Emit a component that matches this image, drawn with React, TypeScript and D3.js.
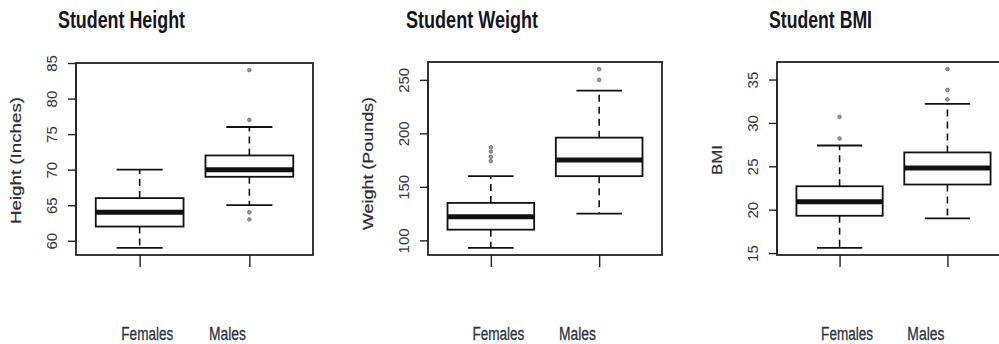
import React, { useEffect, useRef } from 'react';
import * as d3 from 'd3';

const groups = ['Females', 'Males'];

// five number summaries per group: [lower whisker, Q1, median, Q3, upper whisker]
const heightStats = [[59, 62, 64, 66, 70], [65, 69, 70, 72, 76]];
const heightOutliers = [[], [63, 64, 77, 84]];
const heightTicks = [60, 65, 70, 75, 80, 85];

const weightStats = [[93, 110, 122, 135, 160], [125, 160, 175, 196, 240]];
const weightOutliers = [[174, 178, 183, 187], [250, 260]];
const weightTicks = [100, 150, 200, 250];

const bmiStats = [[15.6, 19.3, 20.9, 22.7, 27.4], [19.0, 22.9, 24.8, 26.6, 32.2]];
const bmiOutliers = [[28.2, 30.7], [32.7, 33.8, 36.2]];
const bmiTicks = [15, 20, 25, 30, 35];

const titles = ['Student Height', 'Student Weight', 'Student BMI'];
const yLabels = ['Height (Inches)', 'Weight (Pounds)', 'BMI'];

const datasets = [
  { stats: heightStats, outliers: heightOutliers, ticks: heightTicks },
  { stats: weightStats, outliers: weightOutliers, ticks: weightTicks },
  { stats: bmiStats, outliers: bmiOutliers, ticks: bmiTicks },
];

// plot frames
const panels = [
  { left: 76, right: 313, top: 63, bottom: 255, titleX: 58, titleW: 127, labelW: 127, labelY: 160.5 },
  { left: 428, right: 662, top: 62, bottom: 255, titleX: 406, titleW: 132, labelW: 133, labelY: 163.5 },
  { left: 777, right: 1010, top: 62, bottom: 255, titleX: 769, titleW: 103, labelW: 30, labelY: 160 },
];
const groupLabelW = [52, 37];
const groupLabelPos = [1.07, 1.8];

const font = '"Liberation Sans", Arial, sans-serif';

export default function App() {
  const ref = useRef<SVGSVGElement>(null);

  useEffect(() => {
    const svg = d3.select(ref.current);
    svg.selectAll('*').remove();

    panels.forEach((p, i) => {
      const d = datasets[i];
      const all = d.stats.flat().concat(d.outliers.flat());
      const [lo, hi] = d3.extent(all) as [number, number];
      const pad = (hi - lo) * 0.04;
      const y = d3.scaleLinear().domain([lo - pad, hi + pad]).range([p.bottom, p.top]);
      const x = d3.scaleLinear().domain([0.42, 2.58]).range([p.left, p.right]);
      const g = svg.append('g');

      // title
      g.append('text')
        .attr('x', p.titleX).attr('y', 28)
        .attr('font-family', font).attr('font-weight', 'bold').attr('font-size', 24)
        .attr('fill', '#15151f')
        .attr('textLength', p.titleW).attr('lengthAdjust', 'spacingAndGlyphs')
        .text(titles[i]);

      // y axis title
      g.append('text')
        .attr('transform', `translate(${p.left - 55},${p.labelY}) rotate(-90)`)
        .attr('text-anchor', 'middle')
        .attr('font-family', font).attr('font-size', 14).attr('fill', '#2e2a36')
        .attr('stroke', '#2e2a36').attr('stroke-width', 0.2)
        .attr('textLength', p.labelW).attr('lengthAdjust', 'spacingAndGlyphs')
        .text(yLabels[i]);

      // y axis
      const ay = g.append('g')
        .attr('transform', `translate(${p.left},0)`)
        .call(d3.axisLeft(y).tickValues(d.ticks).tickSize(8).tickFormat(d3.format('d')));
      ay.select('.domain').remove();
      ay.append('line')
        .attr('y1', y(d.ticks[0])).attr('y2', y(d.ticks[d.ticks.length - 1]));
      ay.selectAll('line').attr('stroke', '#222').attr('stroke-width', 1.4);
      ay.selectAll('text')
        .attr('transform', 'rotate(-90)')
        .attr('x', 0).attr('y', -19).attr('dy', 0)
        .attr('text-anchor', 'middle')
        .attr('font-family', font).attr('font-size', 15).attr('fill', '#3a3342');

      // x axis ticks
      const ax = g.append('g')
        .attr('transform', `translate(0,${p.bottom})`)
        .call(d3.axisBottom(x).tickValues([1, 2]).tickSize(12).tickFormat(() => ''));
      ax.select('.domain').remove();
      ax.selectAll('line').attr('stroke', '#222').attr('stroke-width', 1.4);

      // frame
      g.append('rect')
        .attr('x', p.left).attr('y', p.top)
        .attr('width', p.right - p.left).attr('height', p.bottom - p.top)
        .attr('fill', 'none').attr('stroke', '#222').attr('stroke-width', 1.8);

      // boxes
      d.stats.forEach((s, j) => {
        const c = j + 1;
        const [w0, q1, med, q3, w1] = s;
        const bg = g.append('g').attr('stroke', '#111');
        bg.append('line').attr('x1', x(c)).attr('x2', x(c)).attr('y1', y(q3)).attr('y2', y(w1))
          .attr('stroke-width', 1.6).attr('stroke-dasharray', '7,5');
        bg.append('line').attr('x1', x(c)).attr('x2', x(c)).attr('y1', y(q1)).attr('y2', y(w0))
          .attr('stroke-width', 1.6).attr('stroke-dasharray', '7,5');
        [w0, w1].forEach((v) => {
          bg.append('line').attr('x1', x(c - 0.21)).attr('x2', x(c + 0.21))
            .attr('y1', y(v)).attr('y2', y(v)).attr('stroke-width', 1.8);
        });
        bg.append('rect')
          .attr('x', x(c - 0.4)).attr('y', y(q3))
          .attr('width', x(c + 0.4) - x(c - 0.4)).attr('height', y(q1) - y(q3))
          .attr('fill', 'white').attr('stroke-width', 1.8);
        bg.append('line').attr('x1', x(c - 0.4)).attr('x2', x(c + 0.4))
          .attr('y1', y(med)).attr('y2', y(med)).attr('stroke-width', 5);
        d.outliers[j].forEach((v) => {
          g.append('circle').attr('cx', x(c)).attr('cy', y(v)).attr('r', 1.8)
            .attr('fill', '#999').attr('stroke', '#666').attr('stroke-width', 0.8);
        });
      });

      // group labels
      groups.forEach((name, j) => {
        g.append('text')
          .attr('x', x(groupLabelPos[j])).attr('y', 340)
          .attr('text-anchor', 'middle')
          .attr('font-family', font).attr('font-size', 18).attr('fill', '#2c3346')
          .attr('stroke', '#2c3346').attr('stroke-width', 0.3)
          .attr('textLength', groupLabelW[j]).attr('lengthAdjust', 'spacingAndGlyphs')
          .text(name);
      });
    });
  }, []);

  return (
    <svg
      ref={ref}
      width={999}
      height={344}
      style={{ position: 'absolute', left: 0, top: 0, background: 'white' }}
    />
  );
}
